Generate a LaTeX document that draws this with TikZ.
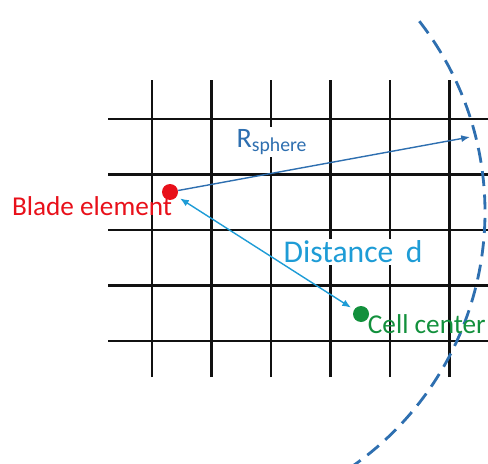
\documentclass[tikz,border=0pt]{standalone}
\usepackage{fontspec}
\setmainfont{Carlito}
\usepackage{tikz}
\usetikzlibrary{arrows.meta,calc,positioning}
\definecolor{gridink}{HTML}{111111}
\definecolor{bladered}{HTML}{E8101A}
\definecolor{cellgreen}{HTML}{12903C}
\definecolor{sphereblue}{HTML}{2E6FB0}
\definecolor{distblue}{HTML}{1E9CD6}

\begin{document}
\begin{tikzpicture}[>={Latex[length=5pt,width=4pt]},
  gridline/.style={draw=gridink,line width=1.4pt},
  dot/.style={circle,inner sep=0pt,minimum size=0.32cm},
  lbl/.style={inner sep=1pt}]
\useasboundingbox (0,0) rectangle (9.76,9.26);
% grid
\foreach \i in {0,...,5}
  \draw[gridline] ({3.04+1.19*\i},1.72) -- ({3.04+1.19*\i},7.66);
\foreach \j in {0,...,4}
  \draw[gridline] (2.16,{6.88-1.11*\j}) -- (9.9,{6.88-1.11*\j});
% sphere boundary
\coordinate (ctr) at (3.50,5.02);
\draw[sphereblue,line width=1.6pt,dash pattern=on 0.3cm off 0.17cm]
  ([shift={(-56:6.2)}]ctr) arc[start angle=-56,end angle=39.5,radius=6.2];
\coordinate (rim) at (9.40,6.52);
% points
\node[dot,fill=bladered] (blade) at (3.40,5.42) {};
\node[dot,fill=cellgreen] (cell) at (7.22,2.98) {};
% labels
\node[lbl,fill=white,text=sphereblue,font=\fontsize{16}{19}\selectfont] (rlbl) at (5.44,6.42) {R\textsubscript{sphere}};
\node[lbl,fill=white,text=distblue,font=\fontsize{18}{21}\selectfont] (dlbl) at (7.06,4.22) {Distance\, d};
\node[lbl,anchor=north east,text=bladered,font=\fontsize{15.5}{18}\selectfont] (bladelbl) at ([xshift=-1pt,yshift=2pt]blade.south east) {Blade element};
\node[lbl,anchor=west,text=cellgreen,font=\fontsize{15.5}{18}\selectfont] (celllbl) at ([xshift=-2pt,yshift=-6pt]cell.east) {Cell center};
% connectors
\draw[->,sphereblue,line width=0.8pt] (blade) -- (rim);
\draw[<->,distblue,line width=0.8pt,shorten <=2pt,shorten >=2pt] (blade) -- (cell);
\end{tikzpicture}
\end{document}
